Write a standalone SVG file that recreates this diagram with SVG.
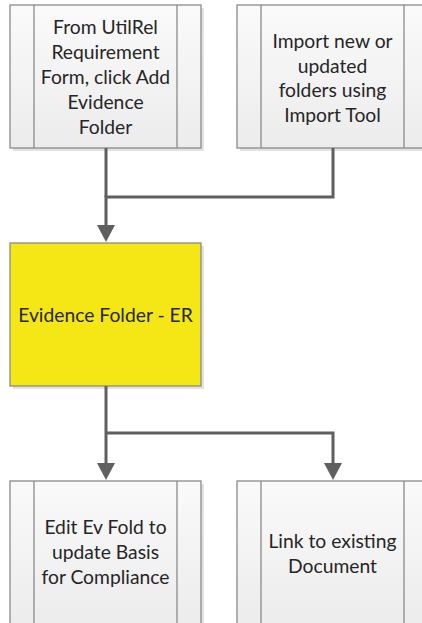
<svg xmlns="http://www.w3.org/2000/svg" width="422" height="623" viewBox="0 0 422 623">
<defs>
<linearGradient id="g" x1="0" y1="0" x2="0" y2="1">
<stop offset="0" stop-color="#fafafa"/>
<stop offset="1" stop-color="#ececec"/>
</linearGradient>
<marker id="ah" markerWidth="18" markerHeight="18" refX="9" refY="9" orient="auto" markerUnits="userSpaceOnUse">
<path d="M0,0 L17,9 L0,18 Z" fill="#5f5f5f"/>
</marker>
<style>
.sh{fill:#e3e3e3}
.bx{fill:url(#g);stroke:#8a8a8a;stroke-width:1.3}
.in{stroke:#8a8a8a;stroke-width:1.3}
.ye{fill:#f5e616;stroke:#8a8a8a;stroke-width:1.3}
.t{font-family:Lato,"Open Sans","Liberation Sans",sans-serif;font-size:19.3px;fill:#262626;text-anchor:middle}
.c{fill:none;stroke:#5f5f5f;stroke-width:3}
</style>
</defs>
<rect width="422" height="623" fill="#ffffff"/>
<g id="n1">
<rect class="sh" x="13" y="8" width="191" height="143"/>
<rect class="bx" x="10" y="5" width="191" height="143"/>
<line class="in" x1="34" y1="5" x2="34" y2="148"/>
<line class="in" x1="177" y1="5" x2="177" y2="148"/>
<text class="t" x="105.5" y="33.5">From UtilRel</text>
<text class="t" x="105.5" y="58.5">Requirement</text>
<text class="t" x="105.5" y="83.5">Form, click Add</text>
<text class="t" x="105.5" y="108.5">Evidence</text>
<text class="t" x="105.5" y="133.5">Folder</text>
</g>
<g id="n2">
<rect class="sh" x="240" y="8" width="191" height="143"/>
<rect class="bx" x="237" y="5" width="191" height="143"/>
<line class="in" x1="261" y1="5" x2="261" y2="148"/>
<line class="in" x1="404" y1="5" x2="404" y2="148"/>
<text class="t" x="332.5" y="48">Import new or</text>
<text class="t" x="332.5" y="72.5">updated</text>
<text class="t" x="332.5" y="97">folders using</text>
<text class="t" x="332.5" y="121.5">Import Tool</text>
</g>
<g id="n3">
<rect class="sh" x="13" y="246" width="191" height="143"/>
<rect class="ye" x="10" y="243" width="191" height="143"/>
<text class="t" x="105.5" y="322">Evidence Folder - ER</text>
</g>
<g id="n4">
<rect class="sh" x="13" y="484" width="191" height="143"/>
<rect class="bx" x="10" y="481" width="191" height="143"/>
<line class="in" x1="34" y1="481" x2="34" y2="624"/>
<line class="in" x1="177" y1="481" x2="177" y2="624"/>
<text class="t" x="105.5" y="534">Edit Ev Fold to</text>
<text class="t" x="105.5" y="559">update Basis</text>
<text class="t" x="105.5" y="584">for Compliance</text>
</g>
<g id="n5">
<rect class="sh" x="240" y="484" width="191" height="143"/>
<rect class="bx" x="237" y="481" width="191" height="143"/>
<line class="in" x1="261" y1="481" x2="261" y2="624"/>
<line class="in" x1="404" y1="481" x2="404" y2="624"/>
<text class="t" x="332.5" y="548">Link to existing</text>
<text class="t" x="332.5" y="573">Document</text>
</g>
<g id="connectors">
<path class="c" d="M106,148 V197" />
<path class="c" d="M333,148 V197 H106 V234" marker-end="url(#ah)"/>
<path class="c" d="M106,386 V472" marker-end="url(#ah)"/>
<path class="c" d="M106,433 H333 V472" marker-end="url(#ah)"/>
</g>
</svg>
